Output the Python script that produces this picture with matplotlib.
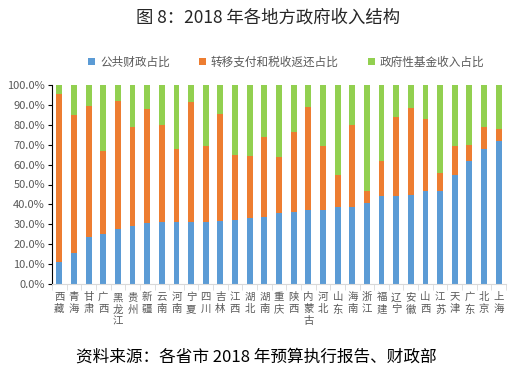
import matplotlib.pyplot as plt
import numpy as np

plt.rcParams['font.family'] = ['Noto Sans CJK SC', 'DejaVu Sans']

# 省份
provinces = ['西藏', '青海', '甘肃', '广西', '黑龙江', '贵州', '新疆', '云南', '河南', '宁夏',
             '四川', '吉林', '江西', '湖北', '湖南', '重庆', '陕西', '内蒙古', '河北', '山东',
             '海南', '浙江', '福建', '辽宁', '安徽', '山西', '江苏', '天津', '广东', '北京', '上海']
# 公共财政占比 (%)
public_share = [11.2, 15.7, 23.7, 25.0, 27.7, 29.3, 30.7, 31.0, 31.3, 31.3,
                31.3, 31.8, 32.2, 33.2, 33.7, 35.7, 36.2, 37.0, 37.0, 38.7,
                38.7, 40.7, 44.0, 44.0, 44.5, 46.7, 46.7, 55.0, 61.7, 67.7, 72.0]
# 公共财政 + 转移支付 累计 (%)
cum_transfer = [95.7, 84.8, 89.2, 67.0, 92.2, 78.7, 88.0, 80.0, 67.7, 91.3,
                69.3, 85.5, 65.0, 64.5, 74.0, 63.7, 76.2, 88.7, 69.5, 55.0,
                80.0, 46.7, 62.0, 84.0, 88.2, 82.8, 55.7, 69.3, 69.8, 79.0, 77.8]

public = np.array(public_share)
transfer = np.array(cum_transfer) - public
fund = 100 - np.array(cum_transfer)

fig = plt.figure(figsize=(5.23, 3.75), dpi=100)
ax = fig.add_axes([52 / 523, 1 - 284 / 375, 454 / 523, 199 / 375])

x = np.arange(len(provinces))
w = 0.4
ax.bar(x, public, w, color='#5B9BD5', label='公共财政占比')
ax.bar(x, transfer, w, bottom=public, color='#ED7D31', label='转移支付和税收返还占比')
ax.bar(x, fund, w, bottom=public + transfer, color='#92D050', label='政府性基金收入占比')

ax.set_xlim(-0.5, len(provinces) - 0.5)
ax.set_ylim(0, 100)
ax.set_yticks(np.arange(0, 101, 10))
ax.set_yticklabels([f'{v:.1f}%' for v in range(0, 101, 10)], fontsize=8, color='#595959')
ax.set_xticks(x)
ax.set_xticklabels(['\n'.join(p) for p in provinces], fontsize=7.5, color='#595959', linespacing=1.25)
ax.set_xticks(np.arange(-0.5, len(provinces), 1), minor=True)
ax.tick_params(axis='x', which='major', length=0, pad=6)
ax.tick_params(axis='x', which='minor', length=4, color='#D9D9D9')
ax.tick_params(axis='y', length=3, color='black', pad=2)

for s in ['top', 'right']:
    ax.spines[s].set_visible(False)
ax.spines['bottom'].set_color('#D9D9D9')
ax.spines['left'].set_color('black')

fig.legend(loc='center', bbox_to_anchor=(0.547, 1 - 62 / 375), ncol=3, frameon=False,
           fontsize=8.4, labelcolor='#595959', handlelength=0.6, handleheight=0.6,
           handletextpad=0.4, columnspacing=2.5)

fig.text(0.512, 1 - 18 / 375, '图 8：2018 年各地方政府收入结构', ha='center', va='center',
         fontsize=12.5, color='#262626')
fig.text(0.49, 1 - 357 / 375, '资料来源：各省市 2018 年预算执行报告、财政部', ha='center', va='center',
         fontsize=12, color='black')

fig.savefig('out.png', dpi=100)
